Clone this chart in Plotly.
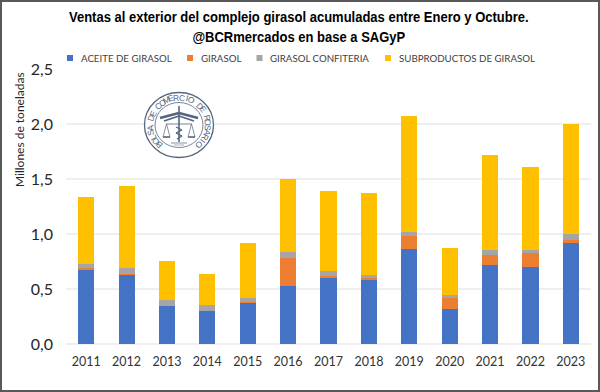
import math
import plotly.graph_objects as go

years = ["2011","2012","2013","2014","2015","2016","2017","2018","2019","2020","2021","2022","2023"]
aceite = [0.68,0.636,0.342,0.303,0.373,0.53,0.60,0.588,0.864,0.318,0.721,0.697,0.915]
girasol = [0.01,0.002,0.0,0.0,0.009,0.255,0.021,0.012,0.115,0.103,0.088,0.127,0.033]
confiteria = [0.037,0.05,0.055,0.049,0.039,0.048,0.039,0.027,0.039,0.027,0.046,0.031,0.052]
subproductos = [0.608,0.747,0.358,0.281,0.50,0.667,0.735,0.743,1.052,0.422,0.86,0.75,1.0]
y_ticks = [0,0.5,1.0,1.5,2.0,2.5]
y_labels = ["0,0","0,5","1,0","1,5","2,0","2,5"]
series = [("ACEITE DE GIRASOL",aceite,"#4472C4"),("GIRASOL",girasol,"#ED7D31"),
          ("GIRASOL CONFITERIA",confiteria,"#A5A5A5"),("SUBPRODUCTOS DE GIRASOL",subproductos,"#FFC000")]
legend_x = [70,190,259.5,388]
title_text = "Ventas al exterior del complejo girasol acumuladas entre Enero y Octubre.<br>@BCRmercados en base a SAGyP"
logo_text = "BOLSA DE COMERCIO DE ROSARIO"

W,H = 600,392
L,R,T,B = 66,9,69,48
PW,PH = W-L-R,H-T-B
def px(x): return (x-L)/PW
def py(y): return 1-(y-T)/PH

fig = go.Figure()
for name,vals,col in series:
    fig.add_bar(x=years,y=vals,name=name,marker=dict(color=col,line=dict(width=0)),width=0.4,showlegend=False)

shapes = [dict(type="rect",xref="paper",yref="paper",x0=px(1),x1=px(599),y0=py(1),y1=py(391),
               line=dict(color="#595959",width=2),fillcolor="rgba(0,0,0,0)")]
NAVY = "#55657F"
cx,cy = 179,125
def circle(rx,ry,w,fill="rgba(0,0,0,0)",col=NAVY):
    return dict(type="circle",xref="paper",yref="paper",x0=px(cx-rx),x1=px(cx+rx),y0=py(cy-ry),y1=py(cy+ry),
                line=dict(color=col,width=w),fillcolor=fill)
def seg(x0,y0,x1,y1,w=1,col=NAVY):
    return dict(type="line",xref="paper",yref="paper",x0=px(cx+x0),x1=px(cx+x1),y0=py(cy+y0),y1=py(cy+y1),
                line=dict(color=col,width=w))
shapes += [circle(34.5,32.5,1.3,"white"),circle(24,22.5,0.8)]
shapes += [seg(0,-19,0,17,1.6),seg(-19,-7,0,-12,2.4),seg(19,-7,0,-12,2.4),seg(-15,-4,0,-9,1.8),seg(15,-4,0,-9,1.8),
           seg(-13,-1,13,-1,0.8),seg(-16,12,-9,12,1.6),seg(9,12,16,12,1.6),seg(-12.5,-1,-16,12,0.7),seg(-12.5,-1,-9,12,0.7),
           seg(12.5,-1,16,12,0.7),seg(12.5,-1,9,12,0.7),seg(-3,2,3,5,1.1),seg(3,5,-3,8,1.1),seg(-3,8,3,11,1.1),seg(3,11,-2,14,1.1),
           seg(-8,18,8,18,0.7),seg(-5,20,5,20,0.5)]

anns = [dict(text="Millones de toneladas",textangle=-90,xref="paper",yref="paper",x=px(19),y=py(130),
             xanchor="center",yanchor="middle",showarrow=False,font=dict(family="Lato",size=12,color="#262626"))]
for (name,vals,col),lx in zip(series,legend_x):
    shapes.append(dict(type="rect",xref="paper",yref="paper",x0=px(lx-3),x1=px(lx+3),y0=py(55),y1=py(61),
                       line=dict(width=0),fillcolor=col))
    anns.append(dict(text=name,xref="paper",yref="paper",x=px(lx+8.5),y=py(58),xanchor="left",yanchor="middle",
                     showarrow=False,font=dict(family="Lato",size=9.7,color="#404040")))
n = len(logo_text)
start,end = -136,136
for i,ch in enumerate(logo_text):
    a = start+(end-start)*i/(n-1)
    anns.append(dict(text=ch,textangle=a,xref="paper",yref="paper",xanchor="center",yanchor="middle",
                     x=px(cx+29*math.sin(math.radians(a))),y=py(cy-27.5*math.cos(math.radians(a))),
                     showarrow=False,font=dict(family="Liberation Sans",size=8.5,color=NAVY)))

fig.update_layout(
    width=W,height=H,autosize=False,barmode="stack",bargap=0.6,
    margin=dict(l=L,r=R,t=T,b=B,pad=0),
    paper_bgcolor="white",plot_bgcolor="white",showlegend=False,
    title=dict(text=title_text,x=0.498,xanchor="center",y=0.944,yanchor="top",
               font=dict(family="Liberation Sans",size=15.5,color="black",weight="bold")),
    xaxis=dict(type="category",showgrid=False,showline=False,ticks="",
               tickfont=dict(family="Lato",size=12.5,color="#333333"),ticklabelstandoff=8),
    yaxis=dict(range=[0,2.5],tickvals=y_ticks,ticktext=y_labels,gridcolor="#EFEFEF",gridwidth=1.5,
               zeroline=True,zerolinecolor="#EFEFEF",zerolinewidth=1.5,showline=False,ticks="",
               tickfont=dict(family="Lato",size=16,color="#262626"),ticklabelstandoff=12),
    shapes=shapes,annotations=anns,
)
fig.write_html("out.html",config={"displayModeBar":False},
    post_script="document.body.style.margin='0';var t=document.querySelector('.gtitle');if(t){t.setAttribute('transform','translate(299,0) scale(0.84,1) translate(-299,0)');}")
